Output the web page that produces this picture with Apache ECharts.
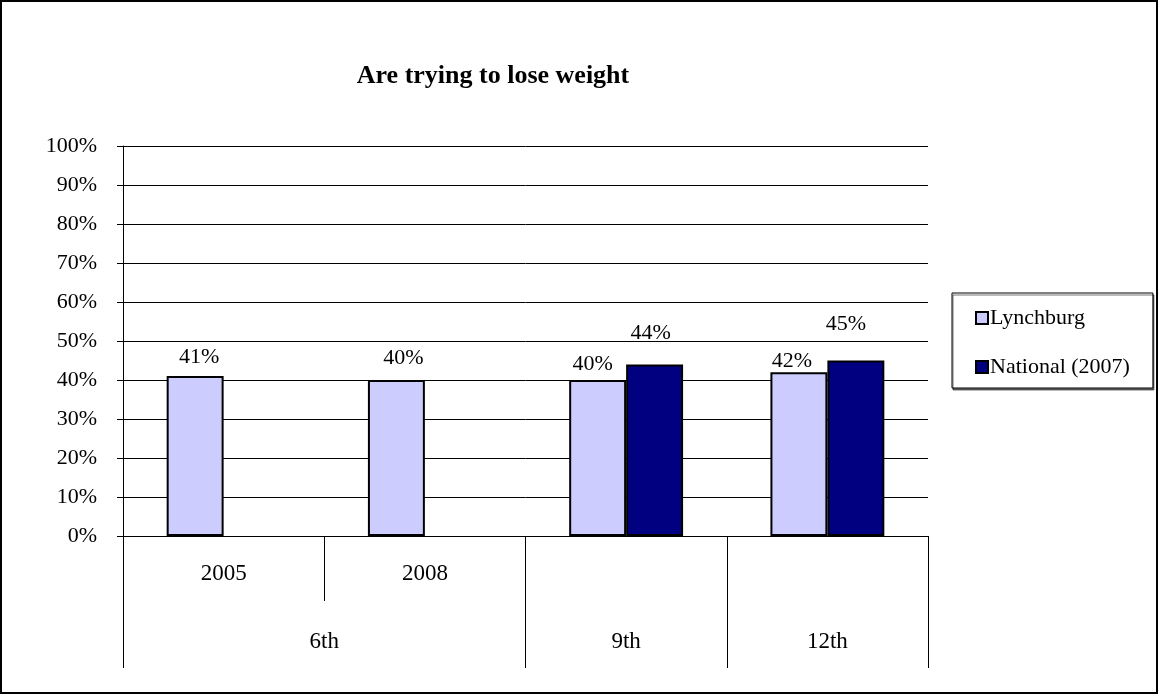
<!DOCTYPE html>
<html>
<head>
<meta charset="utf-8">
<script src="https://cdn.jsdelivr.net/npm/echarts@6/dist/echarts.min.js"></script>
<style>
html,body{margin:0;padding:0;background:#fff;}
#chart{width:1158px;height:694px;}
</style>
</head>
<body>
<div id="chart"></div>
<script>
// ---- data ----
const title = 'Are trying to lose weight';
const yearLabels = ['2005', '2008', '', ''];
const gradeLabels = ['6th', '9th', '12th'];
const gradeCenters = [1, 2.5, 3.5];
const gradeBounds = [0, 2, 3, 4];
const seriesNames = ['Lynchburg', 'National (2007)'];
const lynchburg = [0.41, 0.40, 0.40, 0.42];
const national = [null, null, 0.44, 0.45];

// ---- label nudges (style only) ----
const lynDx = [4, 7, -5, -7], lynDy = [-5, -8, -2, 3];
const natDx = [0, 0, -4, -10], natDy = [0, 0, -17, -22];

const FONT = 'Liberation Serif';
const pct = v => Math.round(v * 100) + '%';

function mk(vals, dx, dy) {
  return vals.map((v, i) => v == null ? null : ({ value: v, label: { offset: [dx[i], dy[i]] } }));
}

const chart = echarts.init(document.getElementById('chart'), null, { renderer: 'canvas' });
chart.setOption({
  backgroundColor: '#fff',
  animation: false,
  title: {
    text: title, left: 488, top: 58, textAlign: 'center',
    textStyle: { fontFamily: FONT, fontSize: 26, fontWeight: 'bold', color: '#000' }
  },
  graphic: [{
    type: 'rect', shape: { x: 1, y: 1, width: 1156, height: 692 },
    style: { fill: null, stroke: '#000', lineWidth: 2 }, z: 100
  }],
  legend: {
    orient: 'vertical', left: 952, top: 293,
    padding: [14, 23, 10, 23], itemGap: 27,
    itemWidth: 12, itemHeight: 12, icon: 'rect',
    backgroundColor: '#fff', borderColor: '#000', borderWidth: 1,
    shadowColor: 'rgba(0,0,0,0.55)', shadowOffsetX: 1, shadowOffsetY: 2, shadowBlur: 0,
    textStyle: { fontFamily: FONT, fontSize: 22, color: '#000', padding: [0, 0, 0, -3] },
    data: seriesNames
  },
  grid: { left: 123, top: 146, width: 805, height: 390, containLabel: false },
  xAxis: [{
    type: 'category', data: yearLabels, position: 'bottom',
    axisLine: { show: true, lineStyle: { color: '#000', width: 1 } },
    axisTick: { show: true, length: 65, interval: 0, lineStyle: { color: '#000' } },
    axisLabel: { interval: 0, margin: 26, fontFamily: FONT, fontSize: 23, color: '#000' },
    splitLine: { show: false }
  }, {
    type: 'value', min: 0, max: 4, position: 'bottom', gridIndex: 0,
    axisLine: { show: false },
    axisTick: { show: true, length: 132, customValues: gradeBounds, lineStyle: { color: '#000' } },
    axisLabel: {
      customValues: gradeCenters, margin: 94, fontFamily: FONT, fontSize: 23, color: '#000',
      formatter: v => { const i = gradeCenters.indexOf(v); return i >= 0 ? gradeLabels[i] : ''; }
    },
    splitLine: { show: false }
  }],
  yAxis: {
    type: 'value', min: 0, max: 1, interval: 0.1,
    axisLine: { show: true, lineStyle: { color: '#000' } },
    axisTick: { show: true, length: 6, lineStyle: { color: '#000' } },
    axisLabel: { margin: 26, fontFamily: FONT, fontSize: 22, color: '#000', formatter: pct },
    splitLine: { show: true, lineStyle: { color: '#000', width: 1 } }
  },
  series: [{
    name: seriesNames[0], type: 'bar', xAxisIndex: 0,
    data: mk(lynchburg, lynDx, lynDy),
    barGap: '0%', barCategoryGap: '43.4%',
    itemStyle: { color: '#CCCCFF', borderColor: '#000', borderWidth: 2 },
    label: { show: true, position: 'top', distance: 3, formatter: p => pct(p.value),
      fontFamily: FONT, fontSize: 22, color: '#000' }
  }, {
    name: seriesNames[1], type: 'bar', xAxisIndex: 0,
    data: mk(national, natDx, natDy),
    barGap: '0%', barCategoryGap: '43.4%',
    itemStyle: { color: '#000080', borderColor: '#000', borderWidth: 2 },
    label: { show: true, position: 'top', distance: 3, formatter: p => pct(p.value),
      fontFamily: FONT, fontSize: 22, color: '#000' }
  }]
});
</script>
</body>
</html>
